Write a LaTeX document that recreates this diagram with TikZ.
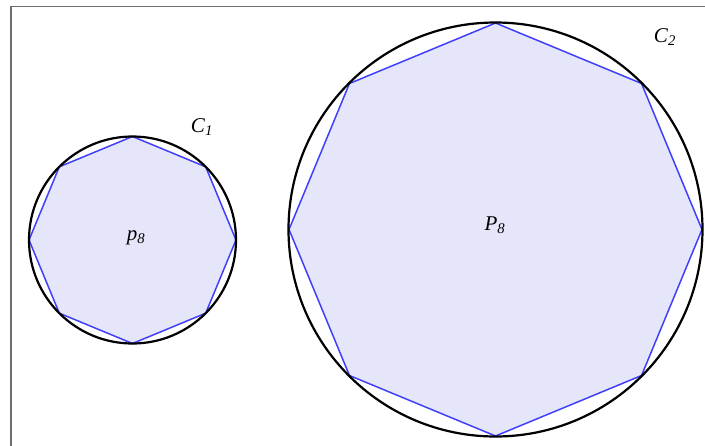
\documentclass[tikz,border=0pt]{standalone}
\usepackage{fontspec}
\setmainfont{Liberation Serif}
\usepackage{xcolor}
\usepackage{tikz}
\definecolor{polyline}{RGB}{64,64,250}
\definecolor{polyfill}{RGB}{230,230,250}
\definecolor{framegray}{RGB}{110,110,110}
\newcommand{\lbl}[2]{\textit{#1}\textsubscript{\textit{#2}}}

\begin{document}
\begin{tikzpicture}[
        x=1pt, y=-1pt,
        font=\fontsize{21}{24}\selectfont,
        ring/.style={draw=black, line width=2.2pt},
        poly/.style={draw=polyline, fill=polyfill, line width=1.5pt, line join=miter},
        frame/.style={draw=framegray, line width=1.8pt},
        tag/.style={inner sep=0pt}
    ]
        \useasboundingbox (0,0) rectangle (705,445);
        \clip (0,0) rectangle (705,445);
        \draw[frame] (11,460) -- (11,6.5) -- (720,6.5);
        % small one
        \draw[poly, shift={(132.5,240)}] (0:103.5) \foreach \a in {45,90,...,315} { -- (\a:103.5) } -- cycle;
        \draw[ring] (132.5,240) circle[radius=103.5];
        % big one
        \draw[poly, shift={(495.5,229.5)}] (0:206.5) \foreach \a in {45,90,...,315} { -- (\a:206.5) } -- cycle;
        \draw[ring] (495.5,229.5) circle[radius=207];
        \node[tag] (c1) at (202,127) {\lbl{C}{1}};
        \node[tag] (p8) at (136,238) {\lbl{p}{8}};
        \node[tag] (P8) at (495,225) {\lbl{P}{8}};
        \node[tag] (c2) at (665,37) {\lbl{C}{2}};
    \end{tikzpicture}
\end{document}
